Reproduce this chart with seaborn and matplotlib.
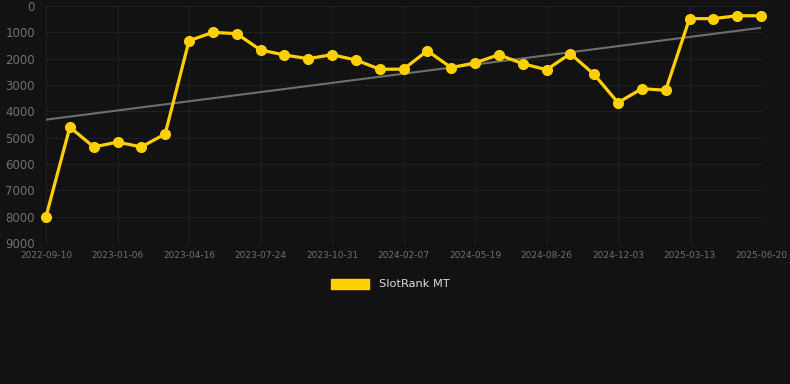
import numpy as np
import pandas as pd
import matplotlib
matplotlib.use("Agg")
import matplotlib.pyplot as plt
import seaborn as sns
from matplotlib.patches import Patch

# dates (only every third one is labelled on the axis)
dates = ['2022-09-10', '2022-10-19', '2022-11-27', '2023-01-06', '2023-02-08', '2023-03-13',
         '2023-04-16', '2023-05-19', '2023-06-21', '2023-07-24', '2023-08-26', '2023-09-28',
         '2023-10-31', '2023-12-03', '2024-01-05', '2024-02-07', '2024-03-11', '2024-04-15',
         '2024-05-19', '2024-06-21', '2024-07-24', '2024-08-26', '2024-09-28', '2024-10-31',
         '2024-12-03', '2025-01-05', '2025-02-08', '2025-03-13', '2025-04-15', '2025-05-18',
         '2025-06-20']
rank = [8000, 4600, 5350, 5170, 5350, 4860, 1320, 1000, 1050, 1670, 1860, 2000,
        1850, 2050, 2400, 2400, 1700, 2340, 2160, 1850, 2190, 2420, 1810, 2600,
        3670, 3140, 3200, 480, 480, 370, 370]
y_ticks = [0, 1000, 2000, 3000, 4000, 5000, 6000, 7000, 8000, 9000]

df = pd.DataFrame({'date': dates, 'rank': rank})
df['idx'] = np.arange(len(df))

bg = '#121212'
yellow = '#ffd000'

sns.set_theme(style='dark')
fig = plt.figure(figsize=(7.9, 3.84), dpi=100, facecolor=bg)
ax = fig.add_axes([46 / 790, 1 - 243 / 384, (761 - 46) / 790, (243 - 6) / 384])
ax.set_facecolor(bg)

# trend line
sns.regplot(data=df, x='idx', y='rank', scatter=False, ci=None, ax=ax,
            line_kws={'color': '#6e6e6e', 'linewidth': 1.5, 'zorder': 2})

sns.lineplot(data=df, x='idx', y='rank', ax=ax, color=yellow, linewidth=2.3,
             marker='o', markersize=8, markeredgewidth=0, zorder=3, clip_on=False)

ax.set_xlim(0, len(dates) - 1)
ax.set_ylim(9000, 0)
ax.set_yticks(y_ticks)
ax.set_yticklabels([str(v) for v in y_ticks])
ax.set_xticks(df['idx'][::3])
ax.set_xticklabels(df['date'][::3])
ax.tick_params(axis='y', colors='#707070', labelsize=8.5, length=0, pad=8)
ax.tick_params(axis='x', colors='#707070', labelsize=6.5, length=0, pad=6)
ax.grid(True, color='#1f1f1f', linewidth=0.8)
for s in ax.spines.values():
    s.set_visible(False)
ax.set_xlabel('')
ax.set_ylabel('')

leg = fig.legend(handles=[Patch(facecolor=yellow, edgecolor=yellow, label='SlotRank MT')],
                 loc='center', bbox_to_anchor=(390 / 790, 1 - 284 / 384), frameon=False,
                 handlelength=3.4, handleheight=1.0, fontsize=8.2)
for t in leg.get_texts():
    t.set_color('#dddddd')

fig.savefig('out.png', dpi=100, facecolor=bg)
